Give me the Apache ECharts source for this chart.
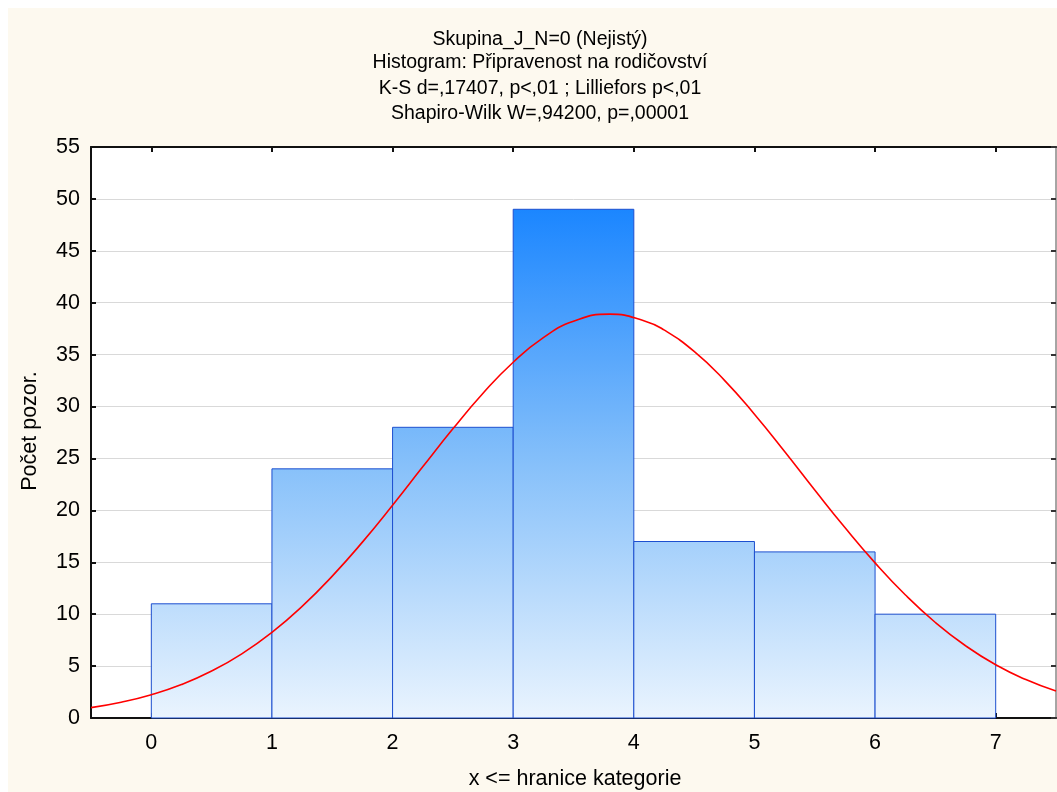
<!DOCTYPE html>
<html>
<head>
<meta charset="utf-8">
<script src="https://cdn.jsdelivr.net/npm/echarts@6/dist/echarts.min.js"></script>
<style>
html,body{margin:0;padding:0;background:#fff;}
#c{width:1057px;height:792px;}
</style>
</head>
<body>
<div id="c"></div>
<script>
// ---- data ----
const titleLines = [
  'Skupina_J_N=0 (Nejistý)',
  'Histogram: Připravenost na rodičovství',
  'K-S d=,17407, p<,01 ; Lilliefors p<,01',
  'Shapiro-Wilk W=,94200, p=,00001'
];
const xAxisName = 'x <= hranice kategorie';
const yAxisName = 'Počet pozor.';
const binStarts = [0, 1, 2, 3, 4, 5, 6];
const binEnds   = [1, 2, 3, 4, 5, 6, 7];
const counts    = [11, 24, 28, 49, 17, 16, 10];
const xTicks = [0, 1, 2, 3, 4, 5, 6, 7];
// fitted normal curve
const curveX = [-0.5,-0.25,0,0.25,0.5,0.75,1,1.25,1.5,1.75,2,2.25,2.5,2.75,3,3.25,3.5,3.8,4.1,4.25,4.5,4.75,5,5.25,5.5,5.75,6,6.25,6.5,6.75,7,7.25,7.5];
const curveY = [1.0,1.52,2.24,3.22,4.52,6.18,8.25,10.75,13.67,16.94,20.49,24.19,27.85,31.28,34.27,36.64,38.21,38.9,38.2,37.38,35.31,32.55,29.26,25.67,21.96,18.34,14.94,11.87,9.20,6.96,5.13,3.70,2.59];

const chart = echarts.init(document.getElementById('c'), null, {renderer: 'canvas'});
const FONT = 'Arial, "Liberation Sans", sans-serif';

const barData = binStarts.map((s, i) => [s, binEnds[i], counts[i]]);
const curveData = curveX.map((x, i) => [x, curveY[i]]);
const maxCount = Math.max.apply(null, counts);

const titleY = [40, 63, 89, 114];
const graphics = [
  {type: 'rect', z: -10, silent: true, shape: {x: 8, y: 8, width: 1049, height: 784}, style: {fill: '#fdf9ef'}},
  {type: 'rect', z: -9, silent: true, shape: {x: 91, y: 147, width: 965, height: 571}, style: {fill: '#ffffff'}}
];
titleLines.forEach((t, i) => graphics.push({
  type: 'text', x: 540, y: titleY[i], z: 10,
  style: {text: t, font: '19.5px ' + FONT, fill: '#000', align: 'center', verticalAlign: 'middle'}
}));
graphics.push({type: 'text', x: 575, y: 779, style: {text: xAxisName, font: '21.5px ' + FONT, fill: '#000', align: 'center', verticalAlign: 'middle'}});
graphics.push({type: 'text', x: 30, y: 431, rotation: Math.PI / 2, style: {text: yAxisName, font: '21.5px ' + FONT, fill: '#000', align: 'center', verticalAlign: 'middle'}});

const option = {
  backgroundColor: '#ffffff',
  animation: false,
  graphic: graphics,
  grid: {left: 91, right: 1, top: 147, bottom: 74, containLabel: false},
  xAxis: [
    {
      type: 'value', min: -0.5, max: 7.5, position: 'bottom',
      axisLine: {show: true, onZero: false, lineStyle: {color: '#111', width: 2}},
      axisTick: {show: true, inside: true, length: 5, customValues: xTicks, lineStyle: {color: '#111', width: 2}},
      axisLabel: {customValues: xTicks, margin: 14, fontSize: 21.5, fontFamily: FONT, color: '#000'},
      splitLine: {show: false}
    },
    {
      type: 'value', min: -0.5, max: 7.5, position: 'top',
      axisLine: {show: true, onZero: false, lineStyle: {color: '#111', width: 2}},
      axisTick: {show: true, inside: true, length: 5, customValues: xTicks, lineStyle: {color: '#111', width: 2}},
      axisLabel: {show: false},
      splitLine: {show: false}
    }
  ],
  yAxis: [
    {
      type: 'value', min: 0, max: 55, interval: 5, position: 'left',
      axisLine: {show: true, onZero: false, lineStyle: {color: '#111', width: 2}},
      axisTick: {show: true, inside: true, length: 5, lineStyle: {color: '#111', width: 2}},
      axisLabel: {margin: 11, fontSize: 21.5, fontFamily: FONT, color: '#000'},
      splitLine: {show: true, lineStyle: {color: '#d9d9d9', width: 1}}
    },
    {
      type: 'value', min: 0, max: 55, interval: 5, position: 'right',
      axisLine: {show: true, onZero: false, lineStyle: {color: '#888', width: 1.5}},
      axisTick: {show: true, inside: true, length: 5, lineStyle: {color: '#333', width: 2}},
      axisLabel: {show: false},
      splitLine: {show: false}
    }
  ],
  series: [
    {
      type: 'custom',
      xAxisIndex: 0, yAxisIndex: 0,
      data: barData,
      renderItem: function (params, api) {
        const p0 = api.coord([api.value(0), 0]);
        const p1 = api.coord([api.value(1), api.value(2)]);
        const yTop = api.coord([0, maxCount])[1];
        const yBot = api.coord([0, 0])[1];
        return {
          type: 'rect',
          shape: {x: p0[0], y: p1[1], width: p1[0] - p0[0], height: p0[1] - p1[1]},
          style: {
            fill: new echarts.graphic.LinearGradient(0, yTop, 0, yBot, [
              {offset: 0, color: '#1b86ff'},
              {offset: 0.5, color: '#86c0fa'},
              {offset: 1, color: '#eaf4fe'}
            ], true),
            stroke: '#1d4fcf',
            lineWidth: 1
          }
        };
      },
      z: 2
    },
    {
      type: 'line',
      xAxisIndex: 0, yAxisIndex: 0,
      data: curveData,
      smooth: true,
      showSymbol: false,
      lineStyle: {color: '#ff0000', width: 1.6},
      z: 3
    }
  ]
};
chart.setOption(option);
</script>
</body>
</html>
